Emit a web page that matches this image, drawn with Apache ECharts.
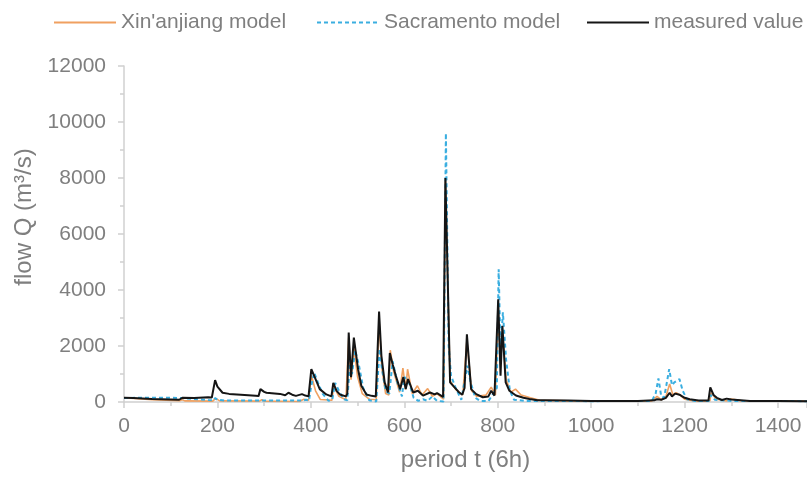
<!DOCTYPE html>
<html>
<head>
<meta charset="utf-8">
<script src="https://cdn.jsdelivr.net/npm/echarts@6/dist/echarts.min.js"></script>
<style>
  html, body { margin: 0; padding: 0; background: #fff; }
  #chart { width: 807px; height: 477px; }
</style>
</head>
<body>
<div id="chart"></div>
<script>
// 读图得到的折点 (时段, 流量 m3/s)
const obsT = [0, 20, 60, 100, 118, 125, 150, 180, 188, 195, 200, 211, 225, 250, 282, 288, 292, 300, 305, 334, 345, 352, 360, 368, 381, 388, 395, 398,
  401, 408, 419, 433, 444, 448, 455, 462, 475, 478, 481, 486, 492, 501, 508, 519, 530, 539, 546, 551, 558, 565, 569, 575, 582, 591, 598, 603, 608,
  619, 629, 640, 655, 665, 670, 683, 688, 698, 707, 717, 724, 729, 734, 743, 754, 768, 780, 786, 793, 797, 801, 806, 810, 817, 825, 839, 855, 868,
  885, 900, 950, 1000, 1065, 1069, 1073, 1100, 1135, 1141, 1150, 1160, 1168, 1173, 1180, 1189, 1200, 1211, 1230, 1251, 1255, 1262, 1269, 1280,
  1290, 1300, 1340, 1400, 1462];
const obsQ = [150, 140, 110, 90, 80, 150, 140, 170, 160, 780, 550, 330, 290, 260, 220, 210, 460, 360, 330, 290, 240, 330, 260, 220, 280, 230, 200, 190,
  1175, 900, 460, 270, 200, 680, 400, 270, 200, 300, 2480, 890, 2300, 1170, 580, 270, 220, 200, 3230, 1650, 700, 340, 1750, 1350, 930, 460, 890, 460, 820,
  340, 400, 230, 340, 270, 320, 180, 8000, 700, 530, 350, 260, 500, 2420, 460, 280, 170, 200, 400, 230, 300, 3670, 940, 2720, 700, 400, 230, 150, 110,
  60, 60, 50, 40, 40, 100, 40, 40, 60, 100, 80, 150, 330, 200, 300, 260, 150, 100, 50, 50, 520, 250, 150, 70,
  120, 90, 40, 40, 30];

const xajT = [0, 60, 120, 125, 130, 190, 196, 205, 290, 295, 300, 375, 385, 395, 401, 410, 420, 445, 449, 460, 475, 481, 486, 492, 500, 510, 525, 540,
  546, 552, 560, 567, 570, 577, 590, 597, 603, 607, 617, 628, 638, 650, 660, 670, 684, 688, 698, 710, 725, 734, 744, 755, 775, 786, 795, 801, 806,
  810, 818, 828, 838, 850, 870, 890, 950, 1130, 1141, 1150, 1160, 1168, 1175, 1182, 1190, 1200, 1220, 1254, 1257, 1268, 1290, 1300, 1320, 1462];
const xajQ = [150, 80, 50, 80, 40, 30, 130, 40, 30, 80, 30, 20, 100, 60, 950, 400, 90, 60, 570, 200, 80, 2300, 800, 1950, 900, 300, 100, 80,
  2900, 1200, 300, 250, 1850, 1100, 350, 1210, 450, 1170, 300, 580, 250, 480, 200, 300, 100, 7900, 760, 450, 250, 2200, 400, 200, 250, 530, 250, 3000, 1600,
  2500, 800, 350, 460, 250, 150, 60, 40, 40, 200, 80, 200, 640, 250, 330, 250, 100, 40, 40, 330, 100, 40, 110, 50, 30];

const sacT = [0, 28, 100, 122, 126, 180, 192, 195, 200, 215, 380, 390, 396, 400, 407, 415, 425, 438, 446, 452, 460, 470, 478, 484, 488, 495, 503, 512,
  525, 540, 547, 552, 560, 568, 575, 585, 595, 600, 610, 620, 630, 640, 650, 660, 670, 684, 689, 695, 700, 710, 722, 735, 742, 752, 762, 780, 798,
  802, 806, 811, 818, 826, 835, 860, 1000, 1130, 1138, 1144, 1150, 1156, 1161, 1167, 1173, 1178, 1189, 1196, 1205, 1220, 1252, 1256, 1265, 1300, 1462];
const sacQ = [140, 150, 150, 140, 70, 70, 60, 140, 80, 50, 50, 80, 50, 500, 1050, 700, 300, 40, 100, 680, 400, 100, 60, 1500, 1000, 1850, 1300, 500,
  60, 20, 1900, 1200, 400, 300, 1460, 700, 200, 900, 700, 150, 40, 100, 40, 200, 40, 20, 9600, 2000, 940, 500, 80, 1300, 700, 150, 40, 30, 500,
  4740, 1800, 3200, 1500, 400, 80, 40, 30, 40, 300, 840, 200, 150, 600, 1175, 600, 700, 820, 400, 100, 40, 40, 250, 80, 40, 30];

const legendNames = ["Xin'anjiang model", "Sacramento model", "measured value"];

const toPairs = (ts, qs) => ts.map((t, i) => [t, qs[i]]);

const labelFont = { color: "#7f7f7f", fontSize: 21, fontFamily: "Liberation Sans, Arial, sans-serif" };
const axisGrey = "#d0d0d0";

const chart = echarts.init(document.getElementById("chart"));

const option = {
  animation: false,
  backgroundColor: "#fff",
  legend: [0, 1, 2].map((i) => ({
    data: [legendNames[i]],
    left: [48, 311, 581][i],
    top: 7,
    itemWidth: 62,
    itemHeight: 14,
    itemStyle: { opacity: 0 },
    textStyle: { ...labelFont }
  })),
  grid: { left: 124, right: 0, top: 66, bottom: 74 },
  xAxis: {
    type: "value",
    min: 0,
    max: 1462,
    interval: 200,
    name: "period t (6h)",
    nameLocation: "middle",
    nameGap: 46,
    nameTextStyle: { ...labelFont, fontSize: 24 },
    axisLine: { lineStyle: { color: axisGrey, width: 1.5 } },
    axisTick: { show: true, length: 6, lineStyle: { color: axisGrey, width: 1.5 } },
    minorTick: { show: true, splitNumber: 2, length: 4, lineStyle: { color: axisGrey, width: 1.5 } },
    axisLabel: { ...labelFont, margin: 14, showMaxLabel: false, formatter: (v) => String(v) },
    splitLine: { show: false }
  },
  yAxis: {
    type: "value",
    min: 0,
    max: 12000,
    interval: 2000,
    name: "flow Q (m³/s)",
    nameLocation: "middle",
    nameGap: 75,
    nameTextStyle: { ...labelFont, fontSize: 24, padding: [0, 0, 0, 34] },
    axisLine: { show: true, lineStyle: { color: axisGrey, width: 1.5 } },
    axisTick: { show: true, length: 6, lineStyle: { color: axisGrey, width: 1.5 } },
    minorTick: { show: true, splitNumber: 2, length: 4, lineStyle: { color: axisGrey, width: 1.5 } },
    axisLabel: { ...labelFont, margin: 18, formatter: (v) => String(v) },
    splitLine: { show: false }
  },
  series: [
    {
      name: legendNames[0],
      type: "line",
      data: toPairs(xajT, xajQ),
      symbol: "none",
      lineStyle: { color: "#f0a060", width: 1.6 },
      itemStyle: { color: "#f0a060" },
      z: 2
    },
    {
      name: legendNames[1],
      type: "line",
      data: toPairs(sacT, sacQ),
      symbol: "none",
      lineStyle: { color: "#3aaee0", width: 2, type: [4, 3] },
      itemStyle: { color: "#3aaee0" },
      z: 3
    },
    {
      name: legendNames[2],
      type: "line",
      data: toPairs(obsT, obsQ),
      symbol: "none",
      lineStyle: { color: "#151515", width: 2 },
      itemStyle: { color: "#151515" },
      z: 4
    }
  ]
};

chart.setOption(option);
</script>
</body>
</html>
